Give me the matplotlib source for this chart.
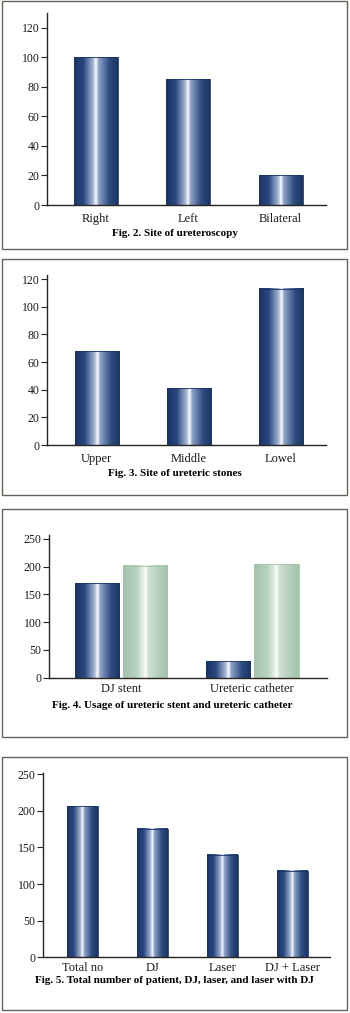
import numpy as np
import matplotlib
matplotlib.use("Agg")
import matplotlib.pyplot as plt
from matplotlib.colors import LinearSegmentedColormap
from matplotlib.patches import Rectangle

plt.rcParams['font.family'] = ['Liberation Serif', 'DejaVu Serif']

# Fig. 2 data
site_labels = ['Right', 'Left', 'Bilateral']
site_counts = [100, 85, 20]

# Fig. 3 data
stone_labels = ['Upper', 'Middle', 'Lowel']
stone_counts = [68, 41, 113]

# Fig. 4 data
usage_labels = ['DJ stent', 'Ureteric catheter']
usage_dark = [171, 30]
usage_light = [202, 204]

# Fig. 5 data
total_labels = ['Total no', 'DJ', 'Laser', 'DJ + Laser']
total_counts = [206, 175, 140, 118]

W, H = 350, 1013
fig = plt.figure(figsize=(W / 100, H / 100), dpi=100)
fig.patch.set_facecolor('white')

navy = LinearSegmentedColormap.from_list(
    'navy', [(0, '#1a3465'), (0.22, '#2a4880'), (0.44, '#a8b8d6'),
             (0.5, '#ffffff'), (0.56, '#8ea3c8'), (0.8, '#2f4c80'), (1, '#1a3465')])
mint = LinearSegmentedColormap.from_list(
    'mint', [(0, '#a2c3aa'), (0.3, '#b9d2bf'), (0.46, '#e6efe8'),
             (0.5, '#ffffff'), (0.56, '#d2e2d6'), (0.8, '#b5cfba'), (1, '#a2c3aa')])
grad = np.linspace(0, 1, 256).reshape(1, -1)


def px_axes(x0, x1, y0, y1):
    return fig.add_axes([x0 / W, 1 - y1 / H, (x1 - x0) / W, (y1 - y0) / H])


def panel_box(y0, y1):
    fig.add_artist(Rectangle((2 / W, 1 - y1 / H), 345 / W, (y1 - y0) / H,
                             transform=fig.transFigure, fill=False,
                             edgecolor='#6a6258', linewidth=1.0))


def shaded_bars(ax, x, vals, width, cmap, edge):
    bars = ax.bar(x, vals, width, color='none', edgecolor=edge, linewidth=0.6, zorder=3)
    for b in bars:
        bx, bw, bh = b.get_x(), b.get_width(), b.get_height()
        ax.imshow(grad, cmap=cmap, extent=(bx, bx + bw, 0, bh),
                  aspect='auto', zorder=2, interpolation='bilinear')
    return bars


def style(ax, xlim, ylim, yticks, labels, xpos, xpad):
    ax.set_xlim(*xlim)
    ax.set_ylim(*ylim)
    ax.set_yticks(yticks)
    ax.set_xticks(xpos)
    ax.set_xticklabels(labels)
    for s in ['top', 'right']:
        ax.spines[s].set_visible(False)
    for s in ['left', 'bottom']:
        ax.spines[s].set_color('#2a241e')
        ax.spines[s].set_linewidth(1.0)
    ax.tick_params(axis='y', length=4, width=0.8, color='#2a241e',
                   labelsize=8.5, pad=1.5, labelcolor='#1a1a1a')
    ax.tick_params(axis='x', length=0, labelsize=9, pad=xpad, labelcolor='#1a1a1a')


# Fig. 2
panel_box(1, 249)
ax1 = px_axes(47, 326, 13, 205)
x = np.arange(len(site_labels))
shaded_bars(ax1, x, site_counts, 0.476, navy, '#1a3465')
style(ax1, (-0.53, 2.49), (0, 130), range(0, 121, 20), site_labels, x, 5.5)
fig.text(174.5 / W, 1 - 233 / H, 'Fig. 2. Site of ureteroscopy',
         ha='center', va='center', fontsize=8, fontweight='bold')

# Fig. 3
panel_box(259, 495)
ax2 = px_axes(47, 326, 275, 445)
x = np.arange(len(stone_labels))
shaded_bars(ax2, x, stone_counts, 0.48, navy, '#1a3465')
style(ax2, (-0.54, 2.49), (0, 123), range(0, 121, 20), stone_labels, x, 5.5)
fig.text(175 / W, 1 - 473 / H, 'Fig. 3. Site of ureteric stones',
         ha='center', va='center', fontsize=8, fontweight='bold')

# Fig. 4
panel_box(509, 737)
ax3 = px_axes(49, 327, 535, 677.7)
x = np.arange(len(usage_labels))
shaded_bars(ax3, x - 0.185, usage_dark, 0.336, navy, '#1a3465')
shaded_bars(ax3, x + 0.185, usage_light, 0.336, mint, '#a2c3aa')
style(ax3, (-0.55, 1.57), (0, 257), range(0, 251, 50), usage_labels, x, 3.5)
fig.text(172.5 / W, 1 - 705 / H, 'Fig. 4. Usage of ureteric stent and ureteric catheter',
         ha='center', va='center', fontsize=8, fontweight='bold')

# Fig. 5
panel_box(757, 1010)
ax4 = px_axes(43, 330, 773, 957.3)
x = np.arange(len(total_labels))
shaded_bars(ax4, x, total_counts, 0.44, navy, '#1a3465')
style(ax4, (-0.56, 3.54), (0, 251.5), range(0, 251, 50), total_labels, x, 3.5)
fig.text(174 / W, 1 - 980 / H, 'Fig. 5. Total number of patient, DJ, laser, and laser with DJ',
         ha='center', va='center', fontsize=8, fontweight='bold')

fig.savefig('out.png', dpi=100)
